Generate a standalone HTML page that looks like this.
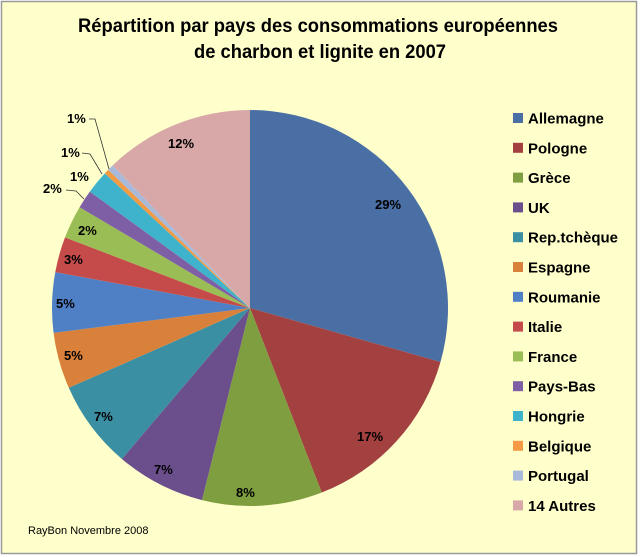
<!DOCTYPE html>
<html><head><meta charset="utf-8"><style>
body{margin:0;background:#fff;}
#c{position:relative;width:640px;height:557px;background:#fff;}
svg{position:absolute;left:0;top:0;}
text{font-family:"Liberation Sans",sans-serif;font-weight:bold;}
</style></head><body><div id="c">
<svg id="s" width="640" height="557" viewBox="0 0 640 557">
<rect x="1.5" y="1.5" width="635" height="552" fill="#FFFFCC" stroke="#999" stroke-width="1.5"/>
<text x="78" y="32" textLength="480" lengthAdjust="spacingAndGlyphs" font-size="19" fill="#000">Répartition par pays des consommations européennes</text>
<text x="194" y="58" textLength="252" lengthAdjust="spacingAndGlyphs" font-size="19" fill="#000">de charbon et lignite en 2007</text>
<g id="pie"></g>
<g font-size="13" fill="#000">
<text x="375" y="209">29%</text>
<text x="357" y="441">17%</text>
<text x="236" y="497">8%</text>
<text x="154" y="474">7%</text>
<text x="94" y="421">7%</text>
<text x="64" y="360">5%</text>
<text x="56" y="308">5%</text>
<text x="64" y="264">3%</text>
<text x="78" y="235">2%</text>
<text x="43" y="193">2%</text>
<text x="70" y="181">1%</text>
<text x="61" y="157">1%</text>
<text x="67" y="123">1%</text>
<text x="168" y="148">12%</text>
</g>
<g stroke="#333" stroke-width="0.8" fill="none">
<polyline points="66,190 76,191 84,199"/>
<polyline points="82,153 90,154 102,174"/>
<polyline points="89,119 95,119 109,169"/>
</g>
<g id="leg" font-size="15" fill="#000"></g>
<text x="28" y="534" font-size="11" fill="#000" style="font-weight:normal">RayBon Novembre 2008</text>
</svg></div>
<script>
var cx=250,cy=308,R=198;
var d=[["Allemagne","#4A6FA5",29.4],["Pologne","#A34040",14.7],["Grèce","#7F9E40",9.8],["UK","#6B4E8C",7.3],["Rep.tchèque","#3A8FA3",7.2],["Espagne","#D9803A",4.6],["Roumanie","#4F7FC4",4.9],["Italie","#C54B4B",2.9],["France","#9ABD55",2.7],["Pays-Bas","#7E5FA6",1.5],["Hongrie","#3FB2CC",1.9],["Belgique","#F39A45",0.4],["Portugal","#A9B9DA",0.5],["14 Autres","#D8A7A7",12.2]];
var ns="http://www.w3.org/2000/svg",pie=document.getElementById("pie"),leg=document.getElementById("leg");
var a=0;
d.forEach(function(e,i){
 var a1=a,a2=a+e[2]/100*2*Math.PI; if(i==d.length-1)a2=2*Math.PI;
 var x1=cx+R*Math.sin(a1),y1=cy-R*Math.cos(a1),x2=cx+R*Math.sin(a2),y2=cy-R*Math.cos(a2);
 var p=document.createElementNS(ns,"path");
 p.setAttribute("d","M"+cx+","+cy+"L"+x1+","+y1+"A"+R+","+R+" 0 "+((a2-a1)>Math.PI?1:0)+" 1 "+x2+","+y2+"Z");
 p.setAttribute("fill",e[1]);pie.appendChild(p);a=a2;
 var y=118+i*29.8;
 var r=document.createElementNS(ns,"rect");r.setAttribute("x",513);r.setAttribute("y",y-5);r.setAttribute("width",10);r.setAttribute("height",10);r.setAttribute("fill",e[1]);leg.appendChild(r);
 var t=document.createElementNS(ns,"text");t.setAttribute("x",528);t.setAttribute("y",y+5.5);t.textContent=e[0];leg.appendChild(t);
});
</script>
</body></html>
